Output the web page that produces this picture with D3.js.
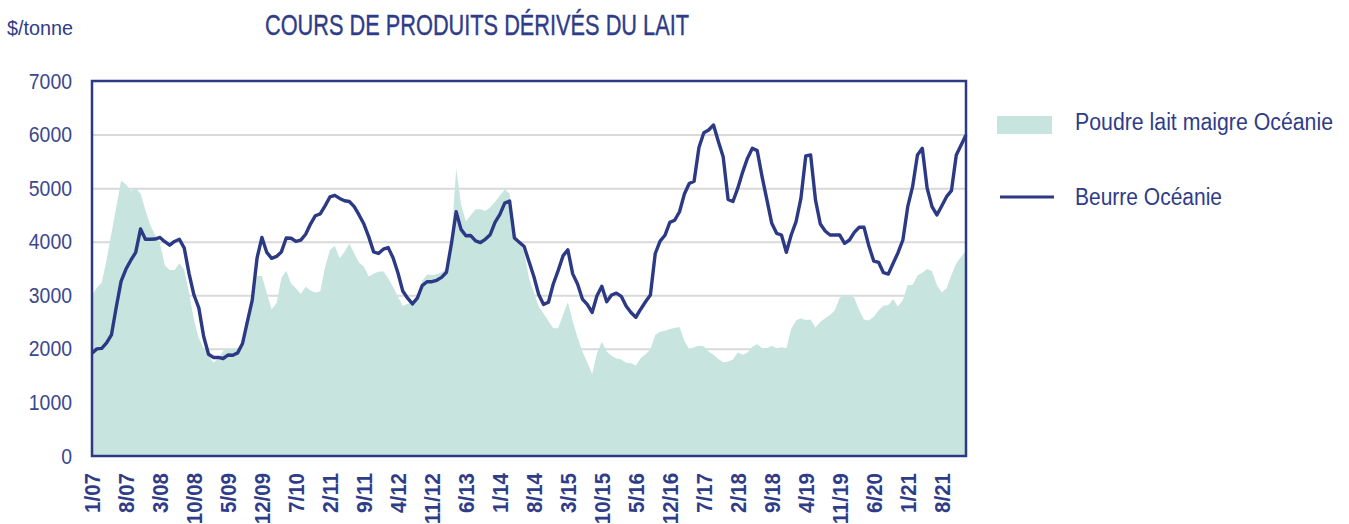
<!DOCTYPE html>
<html>
<head>
<meta charset="utf-8">
<script src="https://cdn.jsdelivr.net/npm/d3@7"></script>
<style>
  body { margin: 0; background: #fff; }
  text { font-family: "Liberation Sans Narrow", "Liberation Sans", Arial, sans-serif; }
</style>
</head>
<body>
<div id="main"></div>
<script>
// monthly points, 1/07 .. 1/22
const months = [];
for (let y = 7; y <= 22; y++) {
  for (let m = 1; m <= 12; m++) {
    if (y === 22 && m > 1) break;
    months.push(`${m}/${String(y).padStart(2, '0')}`);
  }
}

const xTickLabels = ["1/07", "8/07", "3/08", "10/08", "5/09", "12/09", "7/10", "2/11", "9/11",
  "4/12", "11/12", "6/13", "1/14", "8/14", "3/15", "10/15", "5/16", "12/16", "7/17", "2/18",
  "9/18", "4/19", "11/19", "6/20", "1/21", "8/21"];

const yTickValues = [0, 1000, 2000, 3000, 4000, 5000, 6000, 7000];

// Beurre Océanie ($/tonne)
const beurre = [
  1920, 2000, 2010, 2110, 2260, 2780, 3265, 3490, 3655, 3800, 4240, 4045,
  4045, 4050, 4080, 4000, 3935, 4005, 4045, 3880, 3400, 3005, 2765, 2230,
  1900, 1840, 1840, 1820, 1885, 1880, 1925, 2100, 2510, 2910, 3700, 4080,
  3800, 3690, 3725, 3810, 4070, 4065, 4005, 4030, 4140, 4330, 4485, 4520,
  4670, 4835, 4866, 4808, 4765, 4750, 4655, 4500, 4330, 4090, 3810, 3780,
  3860, 3890, 3700, 3420, 3080, 2945, 2840, 2945, 3180, 3253, 3253, 3280,
  3335, 3430, 3950, 4560, 4230, 4110, 4115, 4015, 3985, 4045, 4130, 4360,
  4510, 4720, 4760, 4070, 3990, 3910, 3630, 3350, 3015, 2830, 2870, 3210,
  3460, 3735, 3850, 3400, 3210, 2930, 2830, 2680, 2990, 3170, 2880, 3005,
  3040, 2980, 2800, 2680, 2590, 2740, 2880, 3005, 3780, 4010, 4120, 4360,
  4400, 4560, 4890, 5085, 5130, 5760, 6035, 6085, 6180, 5870, 5580, 4790,
  4750, 5000, 5300, 5560, 5744, 5700, 5214, 4780, 4343, 4157, 4125, 3802,
  4125, 4374, 4810, 5600, 5620, 4780, 4331, 4200, 4125, 4125, 4125, 3970,
  4032, 4175, 4269, 4269, 3920, 3640, 3615, 3422, 3397, 3597, 3795, 4032,
  4654, 5027, 5619, 5744, 4997, 4654, 4499, 4667, 4841, 4953, 5619, 5806,
  5992
];

// Poudre lait maigre Océanie ($/tonne)
const poudre = [
  3005, 3140, 3240, 3660, 4160, 4650, 5140, 5070, 4950, 5000, 4900, 4590,
  4310, 4125, 3970, 3560, 3470, 3470, 3600, 3470, 3040, 2540, 2200, 2010,
  1885, 1740, 1820, 1965, 1990, 2000, 2000, 2050, 2450, 2900, 3360, 3360,
  3040, 2740, 2850, 3320, 3460, 3220, 3130, 3025, 3160, 3090, 3050, 3070,
  3530, 3845, 3925, 3690, 3815, 3960, 3785, 3610, 3535, 3350, 3400, 3440,
  3450, 3320, 3160, 2975, 2800, 2840, 2860, 3000, 3270, 3390, 3380, 3395,
  3430, 3500, 4000, 5370, 4700, 4380, 4495, 4605, 4605, 4575, 4640, 4740,
  4865, 4975, 4900, 4150, 4000, 3800, 3320, 3050, 2790, 2660, 2520, 2385,
  2385, 2630, 2870, 2520, 2210, 1950, 1750, 1530, 1917, 2134, 1950, 1870,
  1820, 1800, 1740, 1730, 1690, 1823, 1900, 1990, 2260, 2320, 2340, 2370,
  2390, 2410, 2150, 1995, 2030, 2060, 2050, 1950, 1890, 1810, 1750, 1765,
  1800, 1930, 1890, 1930, 2040, 2090, 2010, 2010, 2060, 2010, 2030, 2010,
  2370, 2530, 2570, 2540, 2550, 2400, 2505, 2570, 2630, 2720, 2960, 2990,
  3005, 2950, 2720, 2550, 2530, 2600, 2720, 2805, 2820, 2925, 2790, 2910,
  3190, 3190, 3370, 3420, 3490, 3450, 3190, 3050, 3130, 3380, 3600, 3720,
  3830
];

const seriesNames = ["Poudre lait maigre Océanie", "Beurre Océanie"];

const config = { width: 1349, height: 524, left: 92, top: 81, plotW: 874, plotH: 375 };
const navy = "#2c3984";
const textNavy = "#2f3c88";
const fillColor = "#c8e4de";

const svg = d3.select("#main")
  .append("svg")
  .attr("width", config.width)
  .attr("height", config.height);

const xScale = d3.scalePoint().domain(months).range([config.left, config.left + config.plotW]);
const yScale = d3.scaleLinear().domain([0, 7000]).range([config.top + config.plotH, config.top]);

// gridlines
svg.append("g")
  .attr("transform", `translate(${config.left},0)`)
  .call(d3.axisLeft(yScale).tickValues(yTickValues.slice(1, -1)).tickSize(-config.plotW).tickFormat(""))
  .call(g => g.select(".domain").remove())
  .call(g => g.selectAll("line").attr("stroke", "#d9d9d9").attr("stroke-width", 2));

// area
const area = d3.area()
  .x((d, i) => xScale(months[i]))
  .y0(yScale(0))
  .y1(d => yScale(d));

svg.append("path")
  .datum(poudre)
  .attr("fill", fillColor)
  .attr("d", area);

// line
const line = d3.line()
  .x((d, i) => xScale(months[i]))
  .y(d => yScale(d));

svg.append("path")
  .datum(beurre)
  .attr("fill", "none")
  .attr("stroke", navy)
  .attr("stroke-width", 3.4)
  .attr("stroke-linejoin", "round")
  .attr("d", line);

// frame
svg.append("rect")
  .attr("x", config.left)
  .attr("y", config.top)
  .attr("width", config.plotW)
  .attr("height", config.plotH)
  .attr("fill", "none")
  .attr("stroke", navy)
  .attr("stroke-width", 2.5);

// y axis labels
svg.append("g")
  .attr("transform", `translate(${config.left},0)`)
  .call(d3.axisLeft(yScale).tickValues(yTickValues).tickSize(0).tickPadding(20).tickFormat(d3.format("d")))
  .call(g => g.select(".domain").remove())
  .call(g => g.selectAll("text")
    .attr("fill", "#3b4890")
    .style("font-size", "22px")
    .attr("textLength", d => String(d).length * 10.8)
    .attr("lengthAdjust", "spacingAndGlyphs"));

// x axis labels
svg.append("g")
  .attr("transform", `translate(0,${config.top + config.plotH})`)
  .call(d3.axisBottom(xScale).tickValues(xTickLabels).tickSize(0))
  .call(g => g.select(".domain").remove())
  .call(g => g.selectAll("text")
    .attr("transform", "rotate(-90)")
    .attr("x", -17)
    .attr("y", 0)
    .attr("dy", "0.36em")
    .style("text-anchor", "end")
    .style("font-size", "22px")
    .style("font-weight", "bold")
    .attr("fill", textNavy)
    .attr("textLength", d => d.replace("/", "").length * 11.3 + 6)
    .attr("lengthAdjust", "spacingAndGlyphs"));

// titles
svg.append("text")
  .attr("x", 7)
  .attr("y", 35)
  .attr("fill", textNavy)
  .style("font-size", "20px")
  .attr("textLength", 66)
  .attr("lengthAdjust", "spacingAndGlyphs")
  .text("$/tonne");

svg.append("text")
  .attr("x", 265)
  .attr("y", 35)
  .attr("fill", textNavy)
  .attr("stroke", textNavy)
  .attr("stroke-width", 0.4)
  .style("font-size", "30px")
  .attr("textLength", 424)
  .attr("lengthAdjust", "spacingAndGlyphs")
  .text("COURS DE PRODUITS DÉRIVÉS DU LAIT");

// legend
const legend = svg.append("g");
legend.append("rect")
  .attr("x", 997).attr("y", 116)
  .attr("width", 55).attr("height", 18)
  .attr("fill", fillColor);
legend.append("text")
  .attr("transform", "translate(1075,130) scale(1,1.1)")
  .attr("fill", textNavy)
  .style("font-size", "21px")
  .attr("textLength", 258)
  .attr("lengthAdjust", "spacingAndGlyphs")
  .text(seriesNames[0]);

legend.append("line")
  .attr("x1", 1000).attr("x2", 1054)
  .attr("y1", 197).attr("y2", 197)
  .attr("stroke", navy)
  .attr("stroke-width", 3);
legend.append("text")
  .attr("transform", "translate(1075,205) scale(1,1.1)")
  .attr("fill", textNavy)
  .style("font-size", "21px")
  .attr("textLength", 147)
  .attr("lengthAdjust", "spacingAndGlyphs")
  .text(seriesNames[1]);
</script>
</body>
</html>
